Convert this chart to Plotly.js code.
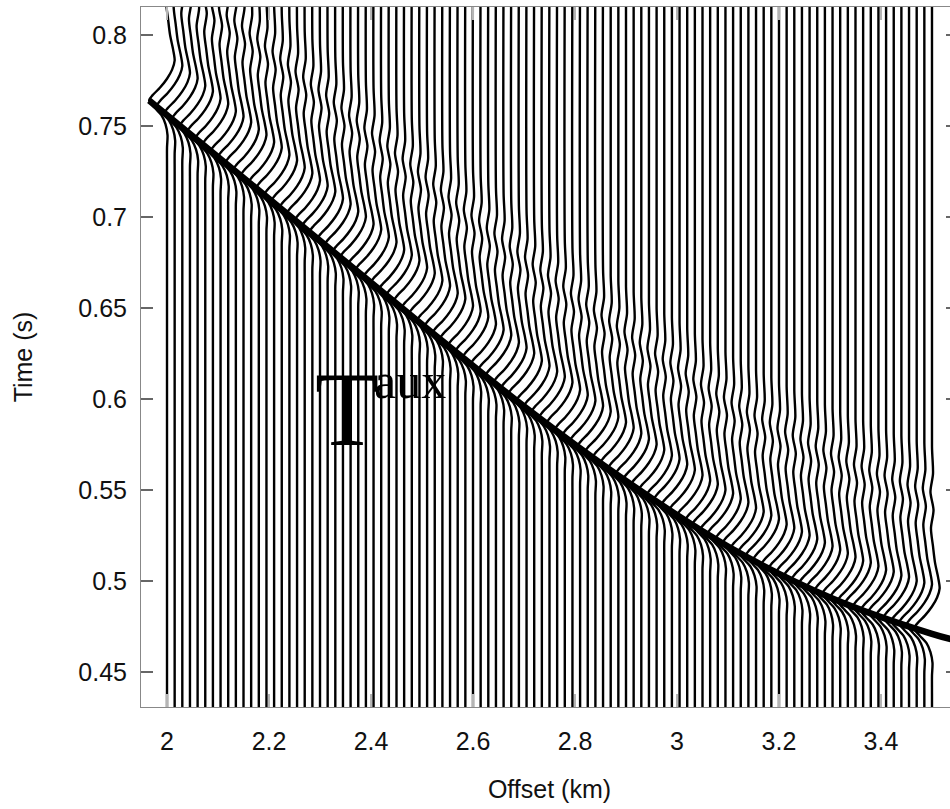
<!DOCTYPE html>
<html><head><meta charset="utf-8">
<script src="https://cdn.plot.ly/plotly-3.0.1.min.js"></script>
<style>html,body{margin:0;padding:0;overflow:hidden;background:#fff}#plot{width:958px;height:809px}</style>
</head><body><div id="plot"></div>
<script>
const offsets = [2,2.015,2.03,2.045,2.06,2.075,2.09,2.105,2.12,2.135,2.15,2.165,2.18,2.195,2.21,2.225,2.24,2.255,2.27,2.285,2.3,2.315,2.33,2.345,2.36,2.375,2.39,2.405,2.42,2.435,2.45,2.465,2.48,2.495,2.51,2.525,2.54,2.555,2.57,2.585,2.6,2.615,2.63,2.645,2.66,2.675,2.69,2.705,2.72,2.735,2.75,2.765,2.78,2.795,2.81,2.825,2.84,2.855,2.87,2.885,2.9,2.915,2.93,2.945,2.96,2.975,2.99,3.005,3.02,3.035,3.05,3.065,3.08,3.095,3.11,3.125,3.14,3.155,3.17,3.185,3.2,3.215,3.23,3.245,3.26,3.275,3.29,3.305,3.32,3.335,3.35,3.365,3.38,3.395,3.41,3.425,3.44,3.455,3.47,3.485,3.5];
const arrivals = [0.764,0.761,0.757,0.754,0.750,0.747,0.743,0.740,0.736,0.733,
0.730,0.726,0.723,0.719,0.716,0.712,0.709,0.705,0.702,0.698,
0.695,0.692,0.688,0.685,0.681,0.678,0.674,0.671,0.667,0.664,
0.660,0.657,0.654,0.650,0.647,0.643,0.640,0.636,0.633,0.629,
0.626,0.623,0.619,0.616,0.613,0.609,0.606,0.603,0.599,0.596,
0.593,0.590,0.587,0.583,0.580,0.577,0.574,0.571,0.568,0.565,
0.562,0.559,0.556,0.553,0.550,0.547,0.545,0.542,0.539,0.536,
0.533,0.531,0.528,0.526,0.523,0.521,0.518,0.516,0.514,0.512,
0.509,0.507,0.505,0.503,0.501,0.499,0.497,0.495,0.493,0.491,
0.489,0.488,0.486,0.484,0.483,0.481,0.480,0.478,0.477,0.476,
0.474];
const waveletTau = [0.100,0.085,0.075,0.065,0.055,0.045,0.036,0.028,0.022,0.017,0.012,0.007,0.003,0.000,-0.004,-0.008,-0.013,-0.019,-0.026,-0.036];
const waveletAmp = [0,0.002,-0.003,0.003,-0.002,0.002,0.006,0.012,0.015,0.010,0.000,-0.014,-0.028,-0.035,-0.024,-0.011,-0.003,0.001,0.000,0];
const tauxX = [1.965,2.1,2.3,2.5,2.7,2.9,3.1,3.3,3.5,3.56];
const tauxT = [0.764,0.733,0.687,0.641,0.596,0.555,0.519,0.491,0.471,0.4665];
const xTickVals = [2,2.2,2.4,2.6,2.8,3,3.2,3.4];
const xTickText = ['2','2.2','2.4','2.6','2.8','3','3.2','3.4'];
const yTickVals = [0.45,0.5,0.55,0.6,0.65,0.7,0.75,0.8];
const yTickText = ['0.45','0.5','0.55','0.6','0.65','0.7','0.75','0.8'];

const wx = [], wy = [];
offsets.forEach((x0, i) => {
  wx.push(x0); wy.push(0.40);
  for (let k = waveletTau.length - 1; k >= 0; k--) {
    wx.push(x0 + waveletAmp[k]); wy.push(arrivals[i] + waveletTau[k]);
  }
  wx.push(x0); wy.push(0.85);
  wx.push(null); wy.push(null);
});

const traces = [
  {x: wx, y: wy, type: 'scatter', mode: 'lines', connectgaps: false,
   line: {color: '#000', width: 2.4, shape: 'spline', smoothing: 0.8}, hoverinfo: 'skip'},
  {x: tauxX, y: tauxT, type: 'scatter', mode: 'lines',
   line: {color: '#000', width: 6.5, shape: 'spline', smoothing: 1}, hoverinfo: 'skip'}
];
const font = {family: '"Liberation Sans", Arial, sans-serif', size: 25, color: '#111'};
const layout = {
  width: 958, height: 809,
  margin: {l: 141, r: 0, t: 7, b: 102},
  paper_bgcolor: '#fff', plot_bgcolor: '#fff',
  showlegend: false,
  font: font,
  xaxis: {range: [1.949, 3.551], tickvals: xTickVals, ticktext: xTickText,
    ticks: 'inside', ticklen: 13, tickcolor: '#b5b5b5', tickwidth: 1.5,
    showline: true, linecolor: '#888', linewidth: 1, mirror: 'ticks',
    showgrid: false, zeroline: false, tickfont: font, ticklabelstandoff: 12,
    title: {text: 'Offset (km)', font: font, standoff: 26}},
  yaxis: {range: [0.4308, 0.8154], tickvals: yTickVals, ticktext: yTickText,
    ticks: 'inside', ticklen: 12, tickcolor: '#666', tickwidth: 1.2,
    showline: true, linecolor: '#888', linewidth: 1, mirror: 'ticks',
    showgrid: false, zeroline: false, tickfont: font, ticklabelstandoff: 8,
    title: {text: 'Time (s)', font: font, standoff: 38}},
  annotations: [
    {x: 2.286, y: 0.561, xref: 'x', yref: 'y', text: 'T', showarrow: false,
     xanchor: 'left', yanchor: 'bottom',
     font: {family: '"Liberation Serif", "Times New Roman", serif', size: 105, color: '#000'}},
    {x: 2.402, y: 0.5934, xref: 'x', yref: 'y', text: 'aux', showarrow: false,
     xanchor: 'left', yanchor: 'bottom',
     font: {family: '"Liberation Serif", "Times New Roman", serif', size: 50, color: '#000'}}
  ]
};
Plotly.newPlot('plot', traces, layout, {staticPlot: true, displayModeBar: false});
</script></body></html>
